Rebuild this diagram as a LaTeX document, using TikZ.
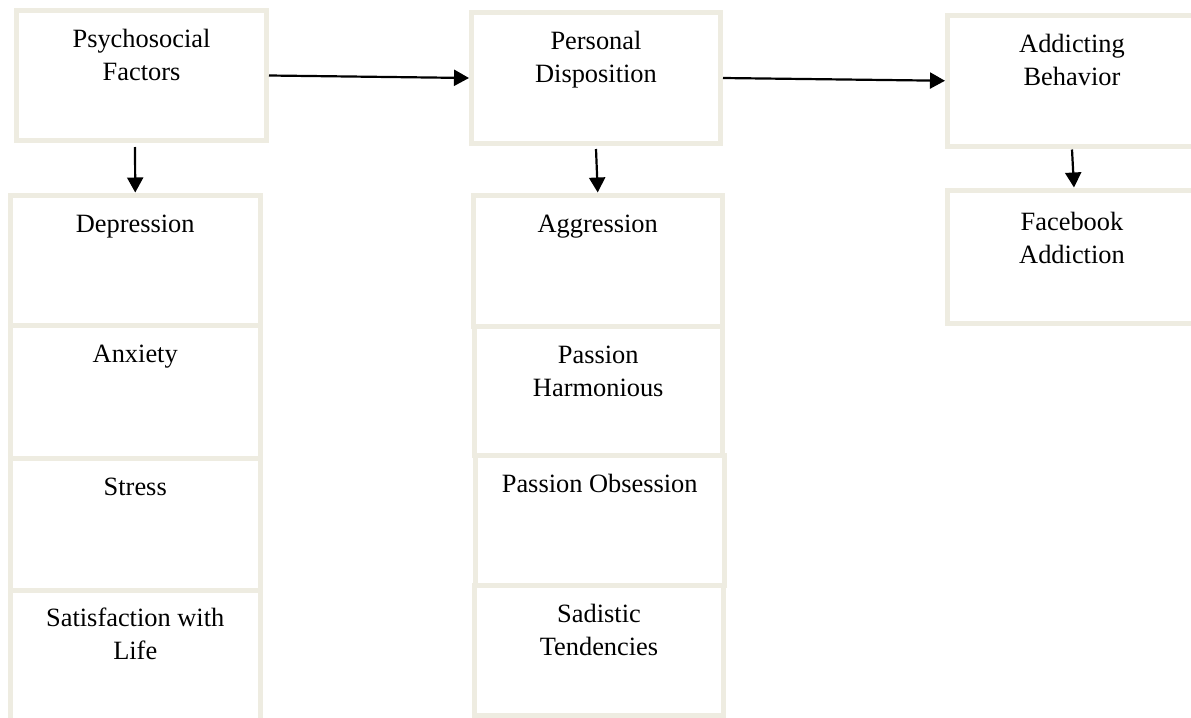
\documentclass[tikz,border=0pt]{standalone}
\usepackage{fontspec}
\setmainfont{Liberation Serif}
\usetikzlibrary{fit,arrows.meta}
\definecolor{boxline}{RGB}{238,236,225}
\begin{document}
\begin{tikzpicture}[x=0.5pt,y=-0.5pt,
  box/.style={draw=boxline, line width=2.5pt, inner sep=0pt, rectangle},
  lbl/.style={anchor=north, align=center, inner sep=0pt, font=\fontsize{13.2}{16.5}\selectfont},
  arr/.style={line width=1.1pt, -{Triangle[length=7.5pt,width=8pt]}}]
\fill[white] (0,0) rectangle (1191,718);
\useasboundingbox (0,0) rectangle (1191,718);
% top row
\node[box, fit={(16.5,10.5) (266.5,140.5)}] (pf) {};
\node[box, fit={(471.5,12.5) (720.5,143.5)}] (pd) {};
\node[box, fit={(947.5,15.5) (1196.5,146)}] (ab) {};
% left column
\node[box, fit={(10.5,195) (260,325.5)}] (dep) {};
\node[box, fit={(10.5,325.5) (260,458)}] (anx) {};
\node[box, fit={(10.5,458) (260,590)}] (str) {};
\node[box, fit={(10.5,590) (260,730)}] (sat) {};
% middle column
\node[box, fit={(473,195) (722.5,326)}] (agg) {};
\node[box, fit={(474,326) (722.5,455)}] (ph) {};
\node[box, fit={(475,455) (724.5,585.5)}] (po) {};
\node[box, fit={(474.5,585.5) (723.5,715)}] (sad) {};
% right column
\node[box, fit={(947.5,190) (1196.5,323)}] (fa) {};
% labels
\node[lbl] (pft) at ([yshift=-8.2pt]pf.north) {\strut Psychosocial\\Factors};
\node[lbl] (pdt) at ([yshift=-8.2pt]pd.north) {\strut Personal\\Disposition};
\node[lbl] (abt) at ([yshift=-8.2pt]ab.north) {\strut Addicting\\Behavior};
\node[lbl] (dept) at ([yshift=-8.2pt]dep.north) {\strut Depression};
\node[lbl] (anxt) at ([yshift=-8.2pt]anx.north) {\strut Anxiety};
\node[lbl] (strt) at ([yshift=-8.2pt]str.north) {\strut Stress};
\node[lbl] (satt) at ([yshift=-7.8pt]sat.north) {\strut Satisfaction with\\Life};
\node[lbl] (aggt) at ([yshift=-8.2pt]agg.north) {\strut Aggression};
\node[lbl] (pht) at ([yshift=-8pt]ph.north) {\strut Passion\\Harmonious};
\node[lbl] (pot) at ([yshift=-8pt]po.north) {\strut Passion Obsession};
\node[lbl] (sadt) at ([yshift=-8.2pt]sad.north) {\strut Sadistic\\Tendencies};
\node[lbl] (fat) at ([yshift=-9.5pt]fa.north) {\strut Facebook\\Addiction};
% arrows
\draw[arr] (pf.east) -- (pd.west);
\draw[arr] (pd.east) -- (ab.west);
\draw[arr] ([xshift=-3.25pt,yshift=-2pt]pf.south) -- (dep.north);
\draw[arr] ([yshift=-1.5pt]pd.south) -- (agg.north);
\draw[arr] ([yshift=-0.5pt]ab.south) -- ([xshift=1pt]fa.north);
\end{tikzpicture}
\end{document}
